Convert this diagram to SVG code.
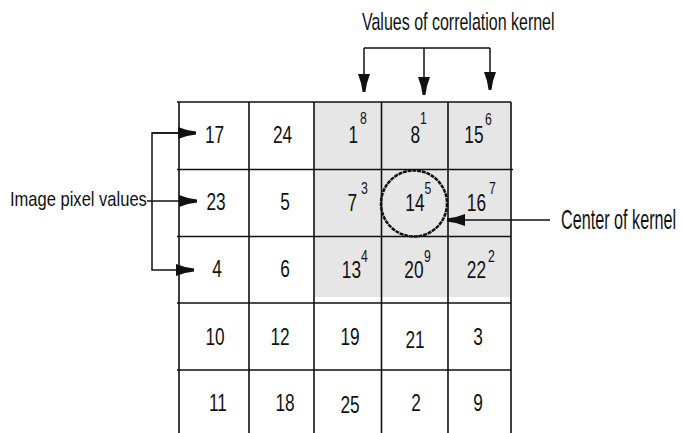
<svg xmlns="http://www.w3.org/2000/svg" width="682" height="433" viewBox="0 0 682 433">
<style>
.g{stroke:#111;stroke-width:1.6;fill:none}
.c{stroke:#111;stroke-width:1.5;fill:none}
text{font-family:"Liberation Sans",Arial,sans-serif;fill:#111}
.n{font-size:24px;text-anchor:middle}
.m{font-size:24px;text-anchor:end}
.s{font-size:17px;text-anchor:start}
</style>
<defs>
<marker id="ah" viewBox="0 -7 20 14" refX="18" refY="0" markerWidth="20" markerHeight="14" markerUnits="userSpaceOnUse" orient="auto">
<path d="M0,-6 L0,6 L9,3 L18,1.4 L18,-1.4 L9,-3 Z" fill="#111"/>
</marker>
</defs>
<g id="grid">
<rect x="314" y="102" width="197" height="195" fill="#e6e6e6"/>
<path class="g" d="M177,102H511 M177,169.5H513 M177,236.5H511 M177,303H511 M177,370H511 M179,102V433 M249,102V433 M314,102V433 M381.5,102V433 M448,102V433 M511,102V433"/>
</g>
<g id="values">
<text class="n" transform="translate(214.5,143) scale(0.72,1)">17</text>
<text class="n" transform="translate(282.5,143) scale(0.72,1)">24</text>
<text class="n" transform="translate(216,210) scale(0.72,1)">23</text>
<text class="n" transform="translate(285,210) scale(0.72,1)">5</text>
<text class="n" transform="translate(217,277) scale(0.72,1)">4</text>
<text class="n" transform="translate(285,277) scale(0.72,1)">6</text>
<text class="n" transform="translate(215,345) scale(0.72,1)">10</text>
<text class="n" transform="translate(280,345) scale(0.72,1)">12</text>
<text class="n" transform="translate(350,345) scale(0.72,1)">19</text>
<text class="n" transform="translate(415,348) scale(0.72,1)">21</text>
<text class="n" transform="translate(478,345) scale(0.72,1)">3</text>
<text class="n" transform="translate(218,411) scale(0.72,1)">11</text>
<text class="n" transform="translate(285,411) scale(0.72,1)">18</text>
<text class="n" transform="translate(350,413) scale(0.72,1)">25</text>
<text class="n" transform="translate(416,411) scale(0.72,1)">2</text>
<text class="n" transform="translate(478,411) scale(0.72,1)">9</text>
</g>
<g id="kernel">
<text class="m" transform="translate(358,143.3) scale(0.72,1)">1</text><text class="s" transform="translate(360,124) scale(0.72,1)">8</text>
<text class="m" transform="translate(420,143.3) scale(0.72,1)">8</text><text class="s" transform="translate(420,124) scale(0.72,1)">1</text>
<text class="m" transform="translate(483.5,143.3) scale(0.72,1)">15</text><text class="s" transform="translate(485,125) scale(0.72,1)">6</text>
<text class="m" transform="translate(357,210.7) scale(0.72,1)">7</text><text class="s" transform="translate(361,193.5) scale(0.72,1)">3</text>
<text class="m" transform="translate(424.5,210.7) scale(0.72,1)">14</text><text class="s" transform="translate(424.5,193.5) scale(0.72,1)">5</text>
<text class="m" transform="translate(486,210.7) scale(0.72,1)">16</text><text class="s" transform="translate(489,193.5) scale(0.72,1)">7</text>
<text class="m" transform="translate(361,278.3) scale(0.72,1)">13</text><text class="s" transform="translate(361,262) scale(0.72,1)">4</text>
<text class="m" transform="translate(423.5,278.3) scale(0.72,1)">20</text><text class="s" transform="translate(424,262) scale(0.72,1)">9</text>
<text class="m" transform="translate(486,278.3) scale(0.72,1)">22</text><text class="s" transform="translate(488,262) scale(0.72,1)">2</text>
</g>
<g id="center">
<circle cx="414" cy="203.5" r="33" fill="none" stroke="#111" stroke-width="2.5" stroke-dasharray="4 0.8"/>
</g>
<g id="connectors">
<path class="c" d="M364,48H490 M364,48V92" marker-end="url(#ah)"/>
<path class="c" d="M424,48V95" marker-end="url(#ah)"/>
<path class="c" d="M490,48V90" marker-end="url(#ah)"/>
<path class="c" d="M196,133H152V270H194" marker-end="url(#ah)"/>
<path class="c" d="M152,133H196" marker-end="url(#ah)"/>
<path class="c" d="M147,201H197" marker-end="url(#ah)"/>
<path class="c" d="M550,220H447" marker-end="url(#ah)"/>
</g>
<g id="labels">
<text transform="translate(362,30) scale(0.667,1)" font-size="24">Values of correlation kernel</text>
<text transform="translate(10,205.7) scale(0.848,1)" font-size="19.5">Image pixel values</text>
<text transform="translate(561,228.5) scale(0.6,1)" font-size="27">Center of kernel</text>
</g>
</svg>
